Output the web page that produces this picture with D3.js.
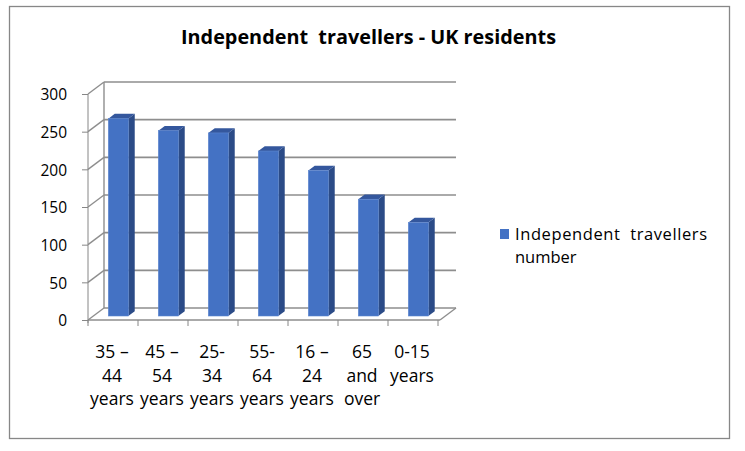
<!DOCTYPE html>
<html><head><meta charset="utf-8">
<script src="https://cdn.jsdelivr.net/npm/d3@7/dist/d3.min.js"></script>
<style>body{margin:0;background:#fff}svg{display:block}</style>
</head><body>
<svg id="c" width="745" height="451"></svg>
<script>
const categories = [["35 –","44","years"],["45 –","54","years"],["25-","34","years"],["55-","64","years"],["16 –","24","years"],["65","and","over"],["0-15","years"]];
const values = [262, 246, 243, 219, 193, 155, 124];
const yTicks = [0, 50, 100, 150, 200, 250, 300];
const title = "Independent  travellers - UK residents";
const legendLines = ["Independent  travellers", "number"];

const svg = d3.select("#c");
const font = "'Open Sans', sans-serif";
svg.append("rect").attr("x",9.5).attr("y",6.5).attr("width",720).attr("height",432)
  .attr("fill","#fff").attr("stroke","#878787").attr("stroke-width",1.3);

const keys = categories.map((c,i)=>"c"+i);
const x = d3.scaleBand().domain(keys).range([88,438]);
const y = d3.scaleLinear().domain([0,300]).range([320,94]);
const DX = 16, DY = -12;

const g = svg.append("g");
// back gridlines
yTicks.forEach(t=>{
  g.append("line").attr("x1",88+DX).attr("x2",456).attr("y1",y(t)+DY).attr("y2",y(t)+DY)
    .attr("stroke","#8e8e8e").attr("stroke-width",1.6);
  g.append("line").attr("x1",88).attr("x2",88+DX).attr("y1",y(t)).attr("y2",y(t)+DY)
    .attr("stroke","#8e8e8e").attr("stroke-width",1.4);
});
// back wall left edge
g.append("line").attr("x1",88+DX).attr("x2",88+DX).attr("y1",y(300)+DY).attr("y2",y(0)+DY)
  .attr("stroke","#8e8e8e").attr("stroke-width",1.4);
// floor
g.append("line").attr("x1",88).attr("x2",440).attr("y1",y(0)).attr("y2",y(0)).attr("stroke","#8e8e8e").attr("stroke-width",1.4);
g.append("line").attr("x1",440).attr("x2",456).attr("y1",y(0)).attr("y2",y(0)+DY).attr("stroke","#8e8e8e").attr("stroke-width",1.4);

// front value axis
const yAxis = d3.axisLeft(y).tickValues(yTicks).tickSize(6).tickPadding(15);
const ya = svg.append("g").attr("transform","translate(88,0)").call(yAxis);
ya.select(".domain").attr("stroke","#868686").attr("d","M0,94V323");
ya.selectAll(".tick line").attr("stroke","#868686");
ya.selectAll("text").attr("font-family",font).attr("font-size",15.5).attr("fill","#000").attr("dy","0.38em");

// category ticks
const xa = svg.append("g").attr("transform","translate(0,320)")
  .call(d3.axisBottom(x).tickValues(keys).tickSize(0).tickFormat(""));
xa.select(".domain").remove();
const tickXs = keys.map(k=>x(k)).concat([x(keys[keys.length-1])+x.bandwidth()]);
tickXs.forEach(t=>xa.append("line").attr("x1",t).attr("x2",t).attr("y1",0).attr("y2",6).attr("stroke","#868686"));

// category labels
categories.forEach((lines,i)=>{
  const cx = x(keys[i]) + x.bandwidth()/2 - 1;
  lines.forEach((ln,j)=>{
    svg.append("text").attr("x",cx).attr("y",358+j*23.7).attr("text-anchor","middle")
      .attr("font-family",font).attr("font-size",17.5).attr("fill","#000").text(ln);
  });
});

// bars
const bw = x.bandwidth()*0.4, d0 = 1/3, dd = 0.4;
const bars = svg.append("g");
values.forEach((v,i)=>{
  const cx = x(keys[i]) + x.bandwidth()/2 + DX*d0;
  const xl = cx - bw/2, xr = cx + bw/2;
  const yt = y(v) + DY*d0, yb = y(0) + DY*d0;
  const ox = DX*dd, oy = DY*dd;
  bars.append("polygon").attr("points",[[xr,yt],[xr+ox,yt+oy],[xr+ox,yb+oy],[xr,yb]].join(" "))
    .attr("fill","#2b4b87");
  bars.append("polygon").attr("points",[[xl,yt],[xr,yt],[xr+ox,yt+oy],[xl+ox,yt+oy]].join(" "))
    .attr("fill","#34579d");
  bars.append("rect").attr("x",xl).attr("y",yt).attr("width",bw).attr("height",yb-yt)
    .attr("fill","#4472c4").attr("stroke","#5d86cf").attr("stroke-width",0.6);
});

// title
svg.append("text").attr("x",368.5).attr("y",44).attr("text-anchor","middle")
  .attr("font-family",font).attr("font-weight","bold").attr("font-size",20).attr("fill","#000")
  .attr("textLength",375).attr("lengthAdjust","spacingAndGlyphs").style("white-space","pre").text(title);

// legend
svg.append("rect").attr("x",500).attr("y",229).attr("width",9).attr("height",10).attr("fill","#4472c4");
svg.append("text").attr("x",515).attr("y",240).attr("font-family",font).attr("font-size",16.5)
  .attr("fill","#000").attr("textLength",192).attr("lengthAdjust","spacing").style("white-space","pre").text(legendLines[0]);
svg.append("text").attr("x",515).attr("y",263).attr("font-family",font).attr("font-size",16.5)
  .attr("fill","#000").text(legendLines[1]);
</script>
</body></html>
